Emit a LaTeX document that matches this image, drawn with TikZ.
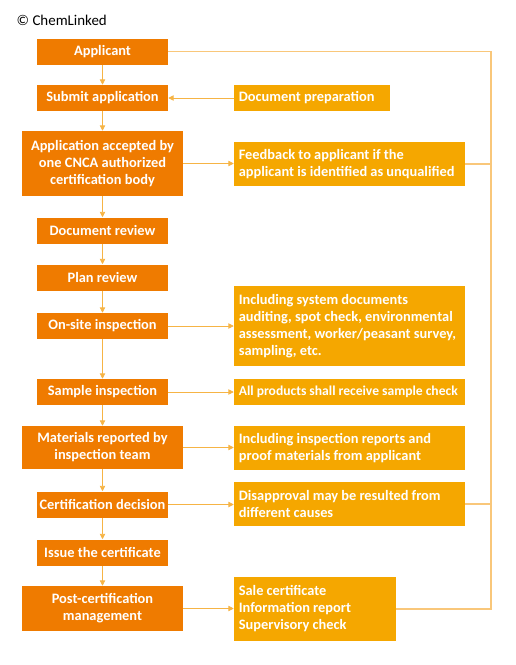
\documentclass[tikz,border=0pt]{standalone}
\usepackage{fontspec}
\setmainfont{Carlito}
\usetikzlibrary{arrows.meta}
\definecolor{stepdark}{HTML}{EF7B00}
\definecolor{notelight}{HTML}{F5A700}
\definecolor{linkline}{HTML}{F6B445}
\definecolor{loopline}{HTML}{F9C77A}
\newcommand\boxfont{\bfseries\fontsize{10.8}{12.75}\selectfont}
\tikzset{
  stepbox/.style={fill=stepdark, text=white, font=\boxfont,
    align=center, minimum width=98.25pt, minimum height=19.5pt, inner sep=0pt},
  widebox/.style={stepbox, minimum width=120.75pt},
  notebox/.style={fill=notelight, text=white, font=\boxfont,
    align=left, text width=166pt, inner xsep=3.6pt, inner ysep=0pt, minimum height=19.5pt,
    execute at begin node={\spaceskip=0.22em plus 0.1em minus 0.05em\relax}},
  flow/.style={linkline, line width=0.6pt, -{Triangle[length=4pt,width=4pt]}},
  back/.style={loopline, line width=0.8pt}
}
\begin{document}
\begin{tikzpicture}[x=0.75pt,y=-0.75pt]
  \useasboundingbox (0,0) rectangle (515,665);
  \node[anchor=west, font=\fontsize{11.2}{12}\selectfont] (brand) at (12,20) {© ChemLinked};

  % main steps
  \node[stepbox] (app) at (102.5,51.5) {Applicant};
  \node[stepbox] (submit) at (102.5,98) {Submit application};
  \node[widebox, minimum height=48.75pt] (accept) at (102.5,163.5) {Application accepted by\\one CNCA authorized\\certification body};
  \node[stepbox] (docrev) at (102.5,230.5) {Document review};
  \node[stepbox] (planrev) at (102.5,277.5) {Plan review};
  \node[stepbox] (onsite) at (102.5,326) {On-site inspection};
  \node[stepbox] (sample) at (102.5,392) {Sample inspection};
  \node[widebox, minimum height=32.25pt] (report) at (102.5,447.5) {Materials reported by\\inspection team};
  \node[stepbox] (decide) at (102.5,504.5) {Certification decision};
  \node[stepbox] (issue) at (102.5,552.5) {Issue the certificate};
  \node[widebox, minimum height=33.75pt] (post) at (102.5,608.5) {Post-certification\\management};

  % side notes
  \node[notebox, text width=109.8pt] (prep) at (312,98) {Document preparation};
  \node[notebox, minimum height=33pt] (feedback) at (349.5,164) {Feedback to applicant if the\\applicant is identified as unqualified};
  \node[notebox, minimum height=60pt] (include) at (349.5,326) {Including system documents\\auditing, spot check, environmental\\assessment, worker/peasant survey,\\sampling, etc.};
  \node[notebox, font=\bfseries\fontsize{10.2}{12.75}\selectfont] (allcheck) at (349.5,392) {\mbox{All products shall receive sample check}};
  \node[notebox, minimum height=33pt] (proof) at (349.5,448) {Including inspection reports and\\proof materials from applicant};
  \node[notebox, minimum height=33pt] (disappr) at (349.5,504) {Disapproval may be resulted from\\different causes};
  \node[notebox, text width=114.3pt, minimum height=48pt] (sale) at (315,609) {Sale certificate\\Information report\\Supervisory check};

  % main flow
  \foreach \a/\b in {app/submit, submit/accept, accept/docrev, docrev/planrev, planrev/onsite,
      onsite/sample, sample/report, report/decide, decide/issue, issue/post}
    \draw[flow] (\a) -- (\b);
  \draw[flow] (prep) -- (submit);
  \foreach \a/\b in {accept/feedback, onsite/include, sample/allcheck, report/proof,
      decide/disappr, post/sale}
    \draw[flow] (\a.east) -- (\a.east -| \b.west);

  % loop back to applicant
  \coordinate (looptop) at (491,51.5);
  \draw[back] (app.east) -- (looptop) |- (sale.east);
  \draw[back] (feedback.east) -- (feedback.east -| looptop);
  \draw[back] (disappr.east) -- (disappr.east -| looptop);
\end{tikzpicture}
\end{document}
